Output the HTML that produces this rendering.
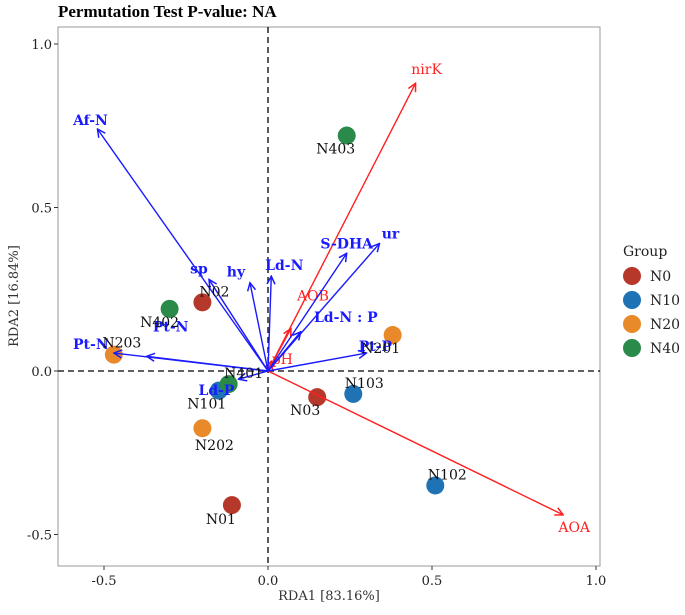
<!DOCTYPE html>
<html><head><meta charset="utf-8"><style>
body{margin:0;background:#fff;width:685px;height:610px;overflow:hidden}
svg text{font-family:"DejaVu Serif","Liberation Serif",serif}
</style></head><body>
<svg id="c" width="685" height="610">
<text x="58" y="17" font-size="17" font-weight="bold" style="font-family:'Liberation Serif',serif">Permutation Test P-value: NA</text>
</svg>
<script>
const sampleNames=["N02","N03","N01","N103","N102","N101","N201","N202","N203","N403","N402","N401"];
const sampleGroups=["N0","N0","N0","N10","N10","N10","N20","N20","N20","N40","N40","N40"];
const sampleX=[-0.20,0.15,-0.11,0.26,0.51,-0.15,0.38,-0.20,-0.47,0.24,-0.30,-0.12];
const sampleY=[0.21,-0.08,-0.41,-0.07,-0.35,-0.06,0.11,-0.175,0.05,0.72,0.19,-0.04];
const envNames=["nirK","AOA","AOB","pH","Af-N","sp","hy","Ld-N","S-DHA","ur","Ld-N : P","Pt-P","Pt-N","Pt-N","Ld-P"];
const envX=[0.45,0.90,0.07,0.01,-0.52,-0.18,-0.055,0.01,0.24,0.34,0.10,0.30,-0.37,-0.47,-0.09];
const envY=[0.88,-0.44,0.13,0.03,0.74,0.28,0.27,0.29,0.36,0.39,0.12,0.055,0.045,0.055,-0.025];
const envRed=[1,1,1,1,0,0,0,0,0,0,0,0,0,0,0];
const groups=["N0","N10","N20","N40"];
const groupColors=["#b5382a","#1f72b4","#e8892a","#2a8a4a"];
const xTicks=[-0.5,0.0,0.5,1.0];
const yTicks=[-0.5,0.0,0.5,1.0];
// label placement offsets (styling)
const sLblDx=[12,-12,-11,11,12,-12,-12,12,8,-11,-10,15];
const sLblDy=[-6,18,19,-6,-6,18,18,22,-7,18,18,-6];
const eLblDx=[11,11,22,11,-7,-10,-14,13,0,11,45,9,24,-23,-22];
const eLblDy=[-14,12,-33,-2,-9,-11,-11,-11,-10,-10,-15,-7,-30,-9,11];
const L=58,R=600,T=27,B=566;
const sx=v=>268+v*328, sy=v=>371-v*327;
const NS="http://www.w3.org/2000/svg", svg=document.getElementById('c');
function mk(t,a,p){const e=document.createElementNS(NS,t);for(const k in a)e.setAttribute(k,a[k]);(p||svg).appendChild(e);return e;}
const defs=mk('defs',{});
[["ab","#1a1aff"],["ar","#ff2020"]].forEach(([id,c])=>{const m=mk('marker',{id,markerWidth:10,markerHeight:10,refX:9,refY:5,orient:'auto',markerUnits:'userSpaceOnUse'},defs);mk('path',{d:'M1,1L9,5L1,9',fill:'none',stroke:c,'stroke-width':1.5},m);});
const frame=mk('rect',{x:L,y:T,width:R-L,height:B-T,fill:'none',stroke:'#999','stroke-width':1});

const h=mk('line',{x1:L,x2:R,y1:sy(0),y2:sy(0),stroke:'#000','stroke-dasharray':'6,4','stroke-width':1.3});

const v=mk('line',{x1:sx(0),x2:sx(0),y1:T,y2:B,stroke:'#000','stroke-dasharray':'6,4','stroke-width':1.3});

xTicks.forEach(t=>{mk('line',{x1:sx(t),x2:sx(t),y1:B,y2:B+4,stroke:'#333'});const e=mk('text',{x:sx(t),y:B+19,'font-size':13,'text-anchor':'middle',fill:'#222'});e.textContent=t.toFixed(1);
});
yTicks.forEach(t=>{mk('line',{x1:L-4,x2:L,y1:sy(t),y2:sy(t),stroke:'#333'});const e=mk('text',{x:L-6,y:sy(t)+5,'font-size':13,'text-anchor':'end',fill:'#222'});e.textContent=t.toFixed(1);
});
let xt=mk('text',{x:329,y:600,'font-size':13,'text-anchor':'middle',fill:'#333'});xt.textContent='RDA1 [83.16%]';

let yt=mk('text',{x:0,y:0,'font-size':13,'text-anchor':'middle',fill:'#333',transform:'translate(18,296) rotate(-90)'});yt.textContent='RDA2 [16.84%]';

sampleX.forEach((x,i)=>{const c=groupColors[groups.indexOf(sampleGroups[i])];
const p=mk('circle',{cx:sx(x),cy:sy(sampleY[i]),r:9,fill:c});

});
envX.forEach((x,i)=>{const red=envRed[i];const c=red?'#ff2020':'#1a1aff';
const a=mk('line',{x1:sx(0),y1:sy(0),x2:sx(x),y2:sy(envY[i]),stroke:c,'stroke-width':1.4,'marker-end':red?'url(#ar)':'url(#ab)'});


const tx=mk('text',{x:sx(x)+eLblDx[i],y:sy(envY[i])+eLblDy[i]+5,'font-size':14,fill:c,'font-weight':red?'normal':'bold','text-anchor':'middle'});
tx.textContent=envNames[i];

});
sampleX.forEach((x,i)=>{const t=mk('text',{x:sx(x)+sLblDx[i],y:sy(sampleY[i])+sLblDy[i],'font-size':14,'text-anchor':'middle',fill:'#111'});
t.textContent=sampleNames[i];

});
let g=mk('text',{x:623,y:256,'font-size':14,fill:'#222'});g.textContent='Group';

groups.forEach((n,i)=>{const y=276+i*24;
const c=mk('circle',{cx:632,cy:y,r:9,fill:groupColors[i]});

const t=mk('text',{x:650,y:y+5,'font-size':14,fill:'#222'});t.textContent=n;
});
</script>
</body></html>
